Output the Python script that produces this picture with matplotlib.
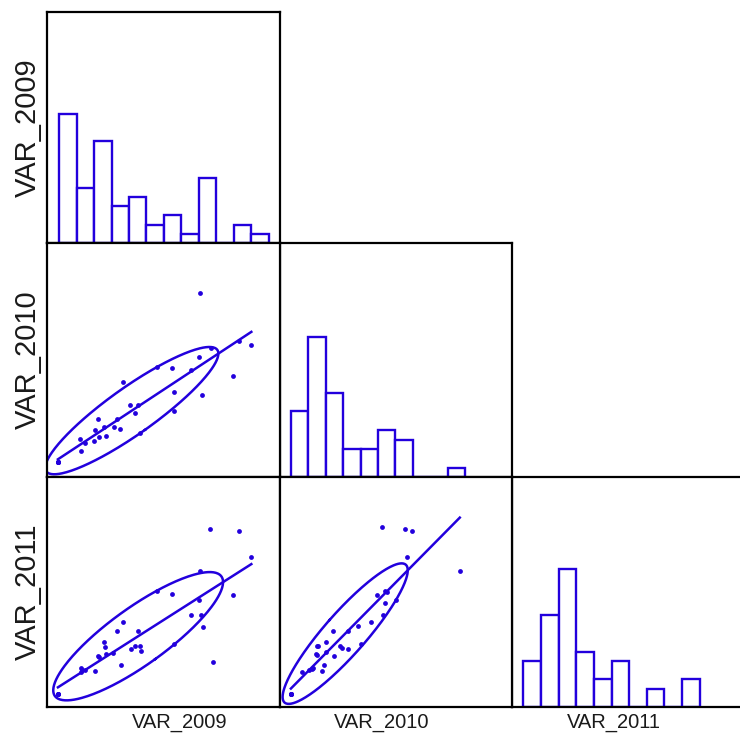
import numpy as np
import matplotlib.pyplot as plt

names = ['VAR_2009', 'VAR_2010', 'VAR_2011']

# VAR_2010 against VAR_2009 (several records sit on the minimum point)
a_2009 = [65.8, 82.3, 87.7, 70.3, 65.4, 47.1, 53.8, 61.9, 79.8, 32.6,
          54.6, 66.7, 35.8, 39.2, 37.9, 54.4, 21.9, 30.2, 24.5, 28.8,
          31.5, 20.7, 39.9, 25.2, 22.3, 20.2, 14.2, 16.4, 14.6, 4.7,
          4.7, 4.7, 4.7, 4.7, 4.7]
a_2010 = [78.6, 58.2, 56.3, 55.1, 51.2, 47.0, 46.6, 45.7, 43.3, 40.5,
          36.2, 35.2, 30.8, 30.8, 27.2, 28.3, 24.7, 24.7, 21.4, 21.2,
          20.4, 20.0, 18.7, 17.4, 16.9, 15.3, 16.2, 14.7, 11.1, 6.5,
          6.5, 6.5, 6.5, 6.5, 6.5]

# VAR_2011 against VAR_2009
b_2009 = [70.1, 82.3, 87.7, 65.8, 47.1, 53.8, 79.8, 65.4, 61.9, 66.0,
          32.7, 66.8, 30.2, 39.2, 24.5, 54.6, 37.9, 39.9, 25.0, 35.9,
          40.5, 28.5, 25.3, 22.0, 22.4, 71.2, 31.6, 14.6, 15.2, 16.4,
          20.7, 14.5, 4.7, 4.7, 4.7, 4.7]
b_2011 = [77.4, 76.7, 65.2, 59.3, 50.6, 49.3, 48.7, 46.4, 40.1, 40.0,
          36.8, 34.8, 33.0, 33.0, 28.4, 27.3, 26.7, 26.7, 26.2, 25.1,
          24.5, 23.6, 22.9, 22.3, 21.9, 19.4, 18.3, 17.1, 16.1, 16.1,
          15.5, 15.3, 5.8, 5.8, 5.8, 5.8]

# VAR_2011 against VAR_2010
c_2010 = [44.1, 53.8, 57.0, 54.9, 77.5, 45.4, 46.0, 41.9, 50.0, 45.1,
          44.4, 39.1, 33.6, 29.4, 23.0, 19.8, 34.9, 25.9, 16.5, 15.9,
          26.7, 29.2, 19.7, 15.6, 16.1, 23.3, 18.8, 14.4, 13.7, 12.6,
          18.2, 9.4, 4.7, 4.7, 4.7, 4.7, 4.7]
c_2011 = [78.4, 77.4, 76.7, 65.2, 59.3, 50.4, 49.9, 48.7, 46.4, 45.2,
          40.1, 36.8, 35.1, 33.2, 33.0, 28.3, 27.3, 26.7, 26.5, 26.4,
          25.5, 25.1, 23.8, 22.9, 22.5, 22.3, 18.3, 16.8, 16.4, 16.0,
          15.7, 15.1, 5.8, 5.8, 5.8, 5.8, 5.8]

# histogram bins (start, width) and counts per variable
hist_start = [5.2, 4.7, 4.9]
hist_width = [7.5, 7.5, 7.6]
hist_2009 = [14, 6, 11, 4, 5, 2, 3, 1, 7, 0, 2, 1]
hist_2010 = [7, 15, 9, 3, 3, 5, 4, 0, 0, 1]
hist_2011 = [5, 10, 15, 6, 3, 5, 0, 2, 0, 3]

blue = '#2200dd'
W, H = 740, 742
col_left = [47, 280, 512]
col_w = [233, 232, 232]
row_top = [12, 243, 477]
row_h = [231, 234, 230]


def make_ax(r, c):
    ax = fig.add_axes([col_left[c] / W, 1 - (row_top[r] + row_h[r]) / H,
                       col_w[c] / W, row_h[r] / H])
    ax.set_xticks([])
    ax.set_yticks([])
    for s in ax.spines.values():
        s.set_linewidth(1.6)
        s.set_color('black')
    ax.set_xlim(0, 100)
    return ax


def draw_hist(ax, start, width, counts):
    edges = start + width * np.arange(len(counts))
    ax.bar(edges, counts, width=width, align='edge', color='white',
           edgecolor=blue, linewidth=1.7)
    ax.set_ylim(0, 25)


def draw_scatter(ax, x, y, k=1.5):
    x = np.asarray(x)
    y = np.asarray(y)
    ax.scatter(x, y, s=12, color=blue, linewidths=0, zorder=3)
    b1, b0 = np.polyfit(x, y, 1)
    xs = np.array([x.min(), x.max()])
    ax.plot(xs, b0 + b1 * xs, color=blue, lw=1.8)
    # density ellipse from the sample covariance
    cov = np.cov(x, y)
    vals, vecs = np.linalg.eigh(cov)
    t = np.linspace(0, 2 * np.pi, 300)
    circ = np.vstack([np.cos(t), np.sin(t)]) * np.sqrt(vals)[:, None] * k
    pts = vecs @ circ
    ax.plot(x.mean() + pts[0], y.mean() + pts[1], color=blue, lw=1.8)
    ax.set_ylim(0, 100)


fig = plt.figure(figsize=(W / 100, H / 100), dpi=100)

ax = make_ax(0, 0)
draw_hist(ax, hist_start[0], hist_width[0], hist_2009)
ax = make_ax(1, 1)
draw_hist(ax, hist_start[1], hist_width[1], hist_2010)
ax = make_ax(2, 2)
draw_hist(ax, hist_start[2], hist_width[2], hist_2011)

ax = make_ax(1, 0)
draw_scatter(ax, a_2009, a_2010)
ax = make_ax(2, 0)
draw_scatter(ax, b_2009, b_2011)
ax = make_ax(2, 1)
draw_scatter(ax, c_2010, c_2011)

family = ['Liberation Sans', 'DejaVu Sans']
for cx, name in zip([179.5, 381.5, 613.5], names):
    fig.text(cx / W, 1 - 722 / H, name, ha='center', va='center',
             family=family, size=14.5, color='#1a1a1a')
for cy, name in zip([127.5, 360, 592], names):
    fig.text(28 / W, 1 - cy / H, name, ha='center', va='center',
             rotation=90, family=family, size=21, color='#1a1a1a')

fig.savefig('out.png', dpi=100)
